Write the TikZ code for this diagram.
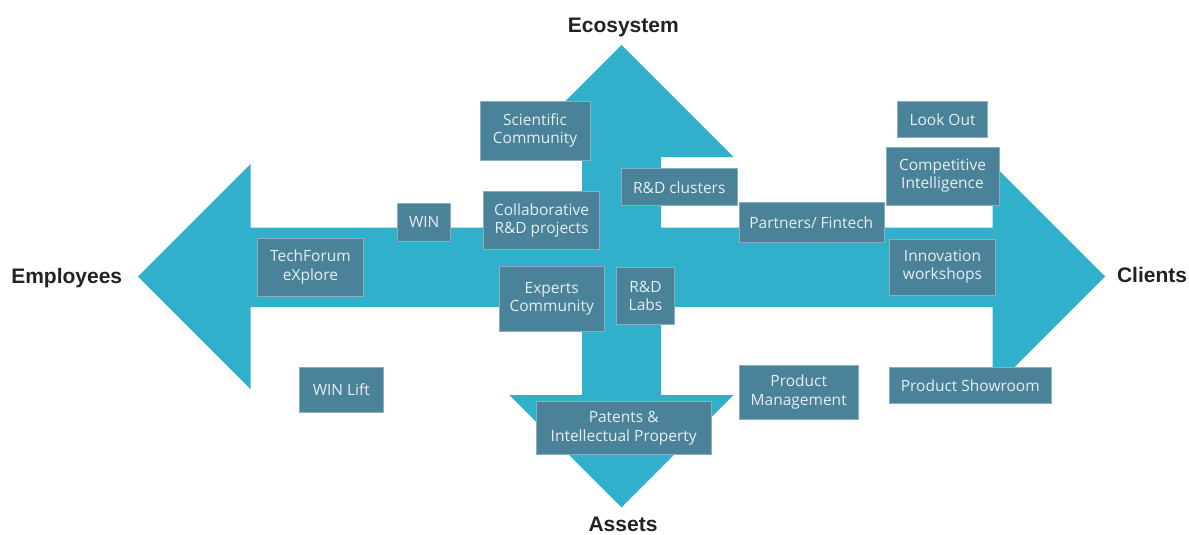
\documentclass[tikz,border=0pt]{standalone}
\usepackage{fontspec}
\setmainfont{Open Sans}
\newfontfamily\headfont{Liberation Sans}
\usepackage{xcolor}
\definecolor{crossblue}{HTML}{30B0CB}
\definecolor{tagblue}{HTML}{4A8399}
\definecolor{tagtext}{HTML}{E6EEF1}
\definecolor{headtext}{HTML}{222222}
\tikzset{
    % grey-blue label boxes sitting on the cross
    tag/.style={
        fill=tagblue,
        draw=white!35!tagblue,
        line width=0.6pt,
        text=tagtext,
        align=center,
        inner sep=0pt,
        font=\fontsize{15.5}{18.5}\selectfont
    },
    % bold words at the four tips
    heading/.style={
        anchor=base,
        text=headtext,
        font=\headfont\bfseries\fontsize{21}{25}\selectfont
    }
}

\begin{document}
\begin{tikzpicture}[x=1pt, y=-1pt]
            \useasboundingbox (0,0) rectangle (1189,535);
            \coordinate (tipW) at (138,276.5);
            \coordinate (tipE) at (1105,276.5);
            \coordinate (tipN) at (621.5,45);
            \coordinate (tipS) at (621.5,507.5);
            % the four-way arrow
            \fill[crossblue] (tipW) -- (250.5,164) -- (250.5,227.5) -- (582,227.5)
                -- (582,157) -- (509.5,157) -- (tipN) -- (733.5,157) -- (661,157)
                -- (661,227.5) -- (992.5,227.5) -- (992.5,164) -- (tipE)
                -- (992.5,389) -- (992.5,307) -- (661,307) -- (661,395)
                -- (733.5,395) -- (tipS) -- (509.5,395) -- (582,395) -- (582,307)
                -- (250.5,307) -- (250.5,389) -- cycle;
            \node[heading] (employees) at (66.7,283) {Employees};
            \node[heading] (clients) at (1152,282) {Clients};
            \node[heading] (ecosystem) at (623.3,33) {Ecosystem};
            \node[heading] (assets) at (623,531) {Assets};
            \begin{scope}
                \node[tag, minimum width=110pt, minimum height=59pt] (sci) at (535,130.3) {Scientific\\Community};
                \node[tag, minimum width=116pt, minimum height=37pt] (clusters) at (679.3,187.2) {R\&D clusters};
                \node[tag, minimum width=116pt, minimum height=58pt] (collab) at (541.5,220.5) {Collaborative\\R\&D projects};
                \node[tag, minimum width=105pt, minimum height=65pt] (experts) at (551.7,299) {Experts\\Community};
                \node[tag, minimum width=58pt, minimum height=57pt] (labs) at (645.5,296) {R\&D\\Labs};
                \node[tag, minimum width=175pt, minimum height=53pt] (patents) at (623.7,428) {Patents \&\\Intellectual Property};
                \node[tag, minimum width=145pt, minimum height=40pt] (partners) at (811.3,222.5) {Partners/ Fintech};
                \node[tag, minimum width=90pt, minimum height=36pt] (lookout) at (942.5,119.5) {Look Out};
                \node[tag, minimum width=113pt, minimum height=58pt] (compint) at (942.5,175.8) {Competitive\\Intelligence};
                \node[tag, minimum width=106pt, minimum height=56pt] (innov) at (942.5,266.8) {Innovation\\workshops};
                \node[tag, minimum width=162pt, minimum height=36pt] (showroom) at (970.3,385.3) {Product Showroom};
                \node[tag, minimum width=106pt, minimum height=58pt] (techforum) at (310.5,267.2) {TechForum\\eXplore};
                \node[tag, minimum width=53pt, minimum height=38pt] (win) at (424.2,222.2) {WIN};
                \node[tag, minimum width=84pt, minimum height=45pt] (winlift) at (341.3,389.3) {WIN Lift};
                \node[tag, minimum width=119pt, minimum height=54pt] (prodmgmt) at (798.7,392.2) {Product\\Management};
            \end{scope}
        \end{tikzpicture}
\end{document}
